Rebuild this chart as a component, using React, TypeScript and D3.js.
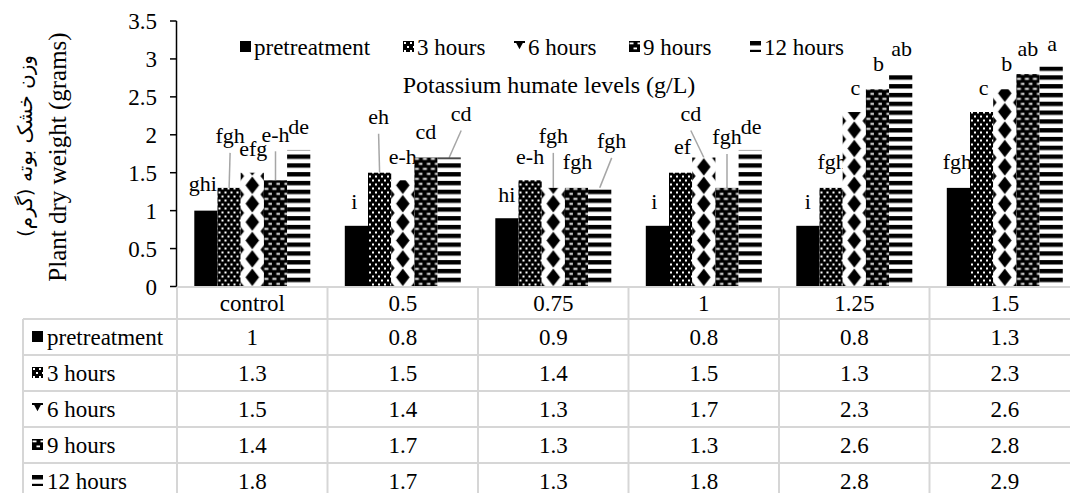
import React from 'react';
import * as d3 from 'd3';

// ---------- data ----------
const categories = ['control', '0.5', '0.75', '1', '1.25', '1.5'];
const seriesNames = ['pretreatment', '3 hours', '6 hours', '9 hours', '12 hours'];
const pretreatment = [1, 0.8, 0.9, 0.8, 0.8, 1.3];
const hours3 = [1.3, 1.5, 1.4, 1.5, 1.3, 2.3];
const hours6 = [1.5, 1.4, 1.3, 1.7, 2.3, 2.6];
const hours9 = [1.4, 1.7, 1.3, 1.3, 2.6, 2.8];
const hours12 = [1.8, 1.7, 1.3, 1.8, 2.8, 2.9];
const yTicks = [0, 0.5, 1, 1.5, 2, 2.5, 3, 3.5];
const lettersPre = ['ghi', 'i', 'hi', 'i', 'i', 'fgh'];
const letters3 = ['fgh', 'eh', 'e-h', 'ef', 'fgh', 'c'];
const letters6 = ['efg', 'e-h', 'fgh', 'cd', 'c', 'b'];
const letters9 = ['e-h', 'cd', 'fgh', 'fgh', 'b', 'ab'];
const letters12 = ['de', 'cd', 'fgh', 'de', 'ab', 'a'];
const chartTitle = 'Potassium humate levels (g/L)';
const yTitle = 'Plant dry weight (grams)';
const yTitleFa = 'وزن خشک بوته (گرم)';

// ---------- layout (label offsets relative to bar top centre: dx, dy, leader) ----------
const labelOffsets: number[][][] = [
  [[-3, -26, 0], [-2, -23, 0], [0, -23, 0], [-3, -23, 0], [0, -23, 0], [-1, -25, 0]],
  [[1, -51, 1], [-1, -55, 1], [0, -23, 0], [2, -25, 0], [1, -25, 0], [2, -24, 0]],
  [[1, -23, 0], [0, -23, 0], [0, -51, 1], [-13, -43, 1], [1, -24, 0], [2, -25, 0]],
  [[0, -45, 1], [0, -25, 0], [1, -25, 0], [0, -50, 1], [1, -25, 0], [0, -25, 0]],
  [[0, -23, 0], [12, -43, 1], [12, -46, 1], [1, -23, 0], [1, -25, 0], [1, -22, 0]],
];
const legendX = [240, 403, 514, 629, 750];
const kinds = ['solid', 'dots', 'diamonds', 'dashes', 'stripes'];

const SERIF = '"Liberation Serif"';
const GRID = '#d6d6d6';

function Pattern({ id, kind, x, y0, w }: { id: string; kind: string; x: number; y0: number; w: number }) {
  if (kind === 'dots') {
    return (
      <pattern id={id} x={x} y={y0} width={6} height={8} patternUnits="userSpaceOnUse">
        <rect width={6} height={8} fill="#000" />
        <rect x={1} y={1} width={2} height={2} fill="#fff" />
        <rect x={4} y={5} width={2} height={2} fill="#fff" />
      </pattern>
    );
  }
  if (kind === 'dashes') {
    return (
      <pattern id={id} x={x} y={y0} width={8} height={10} patternUnits="userSpaceOnUse">
        <rect width={8} height={10} fill="#000" />
        <rect x={0.5} y={1.5} width={4} height={1.8} fill="#fff" />
        <rect x={4.5} y={6.5} width={4} height={1.8} fill="#fff" />
      </pattern>
    );
  }
  if (kind === 'stripes') {
    return (
      <pattern id={id} x={x} y={y0} width={10} height={8.8} patternUnits="userSpaceOnUse">
        <rect width={10} height={8.8} fill="#fff" />
        <rect y={0} width={10} height={4.4} fill="#000" />
      </pattern>
    );
  }
  if (kind === 'diamonds') {
    if (w < 15) {
      // small icon: a downward pointing diamond tip under a bar
      return (
        <pattern id={id} x={x} y={y0} width={w} height={w} patternUnits="userSpaceOnUse">
          <rect width={w} height={w} fill="#fff" />
          <rect x={0} y={0} width={w} height={2} fill="#000" />
          <path d={`M${w * 0.15},1L${w * 0.85},1L${w / 2},${w * 0.75}Z`} fill="#000" />
        </pattern>
      );
    }
    const pw = 30;
    const ph = 18.4;
    const hw = 6.8;
    const hh = 8.6;
    const dia = (cx: number, cy: number) => `M${cx},${cy - hh}L${cx + hw},${cy}L${cx},${cy + hh}L${cx - hw},${cy}Z`;
    return (
      <pattern id={id} x={x + w / 2 - pw / 2} y={y0} width={pw} height={ph} patternUnits="userSpaceOnUse">
        <rect width={pw} height={ph} fill="#fff" />
        <path d={[dia(pw / 2, ph / 2), dia(0, 0), dia(pw, 0), dia(0, ph), dia(pw, ph)].join('')} fill="#000" />
      </pattern>
    );
  }
  return null;
}

export default function App() {
  const W = 1070;
  const H = 493;
  const series = [pretreatment, hours3, hours6, hours9, hours12];
  const letters = [lettersPre, letters3, letters6, letters9, letters12];

  const y = d3.scaleLinear().domain([0, 3.5]).range([286.5, 21]);
  const xG = d3.scaleBand<string>().domain(categories).range([177, 1080]).padding(0);
  const xS = d3.scaleBand<string>().domain(seriesNames).range([17.3, 133.3]).padding(0);
  const bw = xS.bandwidth();

  const tableLeft = 23;
  const tableRight = 1080;
  const rowLines = [287, 319, 355, 391, 427, 463, 499];

  const fill = (si: number, id: string) => (kinds[si] === 'solid' ? '#000' : `url(#${id})`);
  const serif = { fontFamily: SERIF } as React.CSSProperties;

  const defs: any[] = [];
  series.forEach((vals, si) => {
    vals.forEach((_, gi) => {
      const bx = (xG(categories[gi]) as number) + (xS(seriesNames[si]) as number);
      defs.push(<Pattern key={`b${si}-${gi}`} id={`b${si}-${gi}`} kind={kinds[si]} x={bx} y0={y(0)} w={bw} />);
    });
    defs.push(<Pattern key={`l${si}`} id={`l${si}`} kind={kinds[si]} x={legendX[si]} y0={41} w={11} />);
    defs.push(<Pattern key={`t${si}`} id={`t${si}`} kind={kinds[si]} x={32} y0={(rowLines[si + 1] + rowLines[si + 2]) / 2 - 6} w={11} />);
  });

  return (
    <svg width={W} height={H} style={{ position: 'absolute', left: 0, top: 0, background: '#fff' }}>
      <defs>{defs}</defs>
      <rect width={W} height={H} fill="#fff" />

      {/* y axis titles */}
      <text transform={`translate(25,146) rotate(-90)`} textAnchor="middle" dy="0.35em" fontSize={20}
        style={{ fontFamily: '"DejaVu Sans"', direction: 'rtl', unicodeBidi: 'embed' } as any}>
        {yTitleFa}
      </text>
      <text transform={`translate(57,157) rotate(-90)`} textAnchor="middle" dy="0.35em" fontSize={25} style={serif}>
        {yTitle}
      </text>

      {/* y axis */}
      <line x1={176.5} x2={176.5} y1={y(3.5)} y2={y(0)} stroke="#000" strokeWidth={1.5} />
      {yTicks.map((t) => (
        <g key={t}>
          <line x1={170} x2={176.5} y1={y(t)} y2={y(t)} stroke="#000" strokeWidth={1.5} />
          <text x={157} y={y(t)} dy="0.35em" textAnchor="end" fontSize={23} style={serif}>{t}</text>
        </g>
      ))}

      {/* legend */}
      {seriesNames.map((s, si) => (
        <g key={s}>
          <rect x={legendX[si]} y={41} width={11} height={11} fill={kinds[si] === 'solid' ? '#000' : `url(#l${si})`} />
          <text x={legendX[si] + 14} y={47} dy="0.35em" fontSize={23} style={serif}>{s}</text>
        </g>
      ))}

      {/* title */}
      <text x={549} y={85} dy="0.35em" textAnchor="middle" fontSize={24} style={serif}>{chartTitle}</text>

      {/* letters and leader lines (under the bars) */}
      {series.map((vals, si) =>
        vals.map((v, gi) => {
          const cx = (xG(categories[gi]) as number) + (xS(seriesNames[si]) as number) + bw / 2;
          const top = y(v);
          const [dx, dy, leader] = labelOffsets[si][gi];
          const lx = cx + dx;
          const ly = top + dy;
          return (
            <g key={`lab${si}-${gi}`}>
              {leader ? <line x1={lx} y1={ly + 16} x2={cx} y2={top} stroke="#a6a6a6" strokeWidth={1.5} /> : null}
              <text x={lx} y={ly} dy="0.3em" textAnchor="middle" fontSize={22} style={serif}>{letters[si][gi]}</text>
            </g>
          );
        })
      )}

      {/* bars */}
      {series.map((vals, si) =>
        vals.map((v, gi) => {
          const bx = (xG(categories[gi]) as number) + (xS(seriesNames[si]) as number);
          return <rect key={`bar${si}-${gi}`} x={bx} y={y(v)} width={bw} height={y(0) - y(v)} fill={fill(si, `b${si}-${gi}`)} />;
        })
      )}

      {/* data table */}
      <g stroke={GRID} strokeWidth={2}>
        <line x1={177} x2={tableRight} y1={rowLines[0]} y2={rowLines[0]} />
        {rowLines.slice(1).map((ry) => (
          <line key={ry} x1={tableLeft} x2={tableRight} y1={ry} y2={ry} />
        ))}
        <line x1={tableLeft} x2={tableLeft} y1={rowLines[1]} y2={rowLines[6]} />
        {categories.map((c) => (
          <line key={c} x1={xG(c)} x2={xG(c)} y1={rowLines[0]} y2={rowLines[6]} />
        ))}
        <line x1={tableRight} x2={tableRight} y1={rowLines[0]} y2={rowLines[6]} />
      </g>
      {categories.map((c) => (
        <text key={c} x={(xG(c) as number) + xG.bandwidth() / 2} y={(rowLines[0] + rowLines[1]) / 2} dy="0.35em" textAnchor="middle" fontSize={23} style={serif}>
          {c}
        </text>
      ))}
      {seriesNames.map((s, si) => {
        const cy = (rowLines[si + 1] + rowLines[si + 2]) / 2;
        return (
          <g key={`row${s}`}>
            <rect x={32} y={cy - 6} width={11} height={11} fill={kinds[si] === 'solid' ? '#000' : `url(#t${si})`} />
            <text x={47} y={cy} dy="0.35em" fontSize={23} style={serif}>{s}</text>
            {series[si].map((v, gi) => (
              <text key={gi} x={(xG(categories[gi]) as number) + xG.bandwidth() / 2} y={cy} dy="0.35em" textAnchor="middle" fontSize={23} style={serif}>
                {v}
              </text>
            ))}
          </g>
        );
      })}
    </svg>
  );
}
